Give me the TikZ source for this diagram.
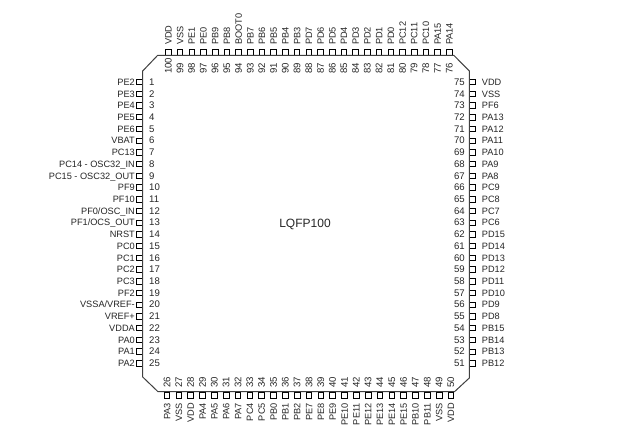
\documentclass[tikz,border=0pt]{standalone}
\usepackage{fontspec}
\setmainfont{Liberation Sans}
\begin{document}
\begin{tikzpicture}[x=1pt,y=-1pt,
  lbl/.style={inner sep=0pt,text height=6.6pt,text depth=0pt,font=\fontsize{9.2}{10}\selectfont,text=black!85},
  num/.style={lbl,font=\fontsize{9.6}{10}\selectfont},
  hpin/.style={draw=black,line width=0.75pt,rectangle,inner sep=0pt,minimum width=6pt,minimum height=5.4pt},
  vpin/.style={draw=black,line width=0.75pt,rectangle,inner sep=0pt,minimum width=5.6pt,minimum height=6.2pt},
  body/.style={draw=black!75,line width=1pt,line join=miter}]
\useasboundingbox (0,0) rectangle (621,435);
\fill[white] (0,0) rectangle (621,435);
% left pins 1-25
\foreach \t [count=\i] in {PE2,PE3,PE4,PE5,PE6,VBAT,PC13,PC14 - OSC32\_IN,PC15 - OSC32\_OUT,PF9,PF10,PF0/OSC\_IN,PF1/OCS\_OUT,NRST,PC0,PC1,PC2,PC3,PF2,VSSA/VREF-,VREF+,VDDA,PA0,PA1,PA2}{
  \pgfmathsetmacro\py{82+(\i-1)*11.72}
  \node[hpin] (p\i) at (139.7,\py) {};
  \node[lbl,anchor=east] (l\i) at (135,\py) {\t};
  \node[num,anchor=west] (n\i) at (149,\py) {\i};
}
% bottom pins 26-50
\foreach \t [count=\c] in {PA3,VSS,VDD,PA4,PA5,PA6,PA7,PC4,PC5,PB0,PB1,PB2,PE7,PE8,PE9,PE10,PE11,PE12,PE13,PE14,PE15,PB10,PB11,VSS,VDD}{
  \pgfmathtruncatemacro\i{25+\c}
  \pgfmathsetmacro\px{167+(\c-1)*11.83}
  \node[vpin] (p\i) at (\px,395) {};
  \node[lbl,rotate=90,anchor=east] (l\i) at (\px,403) {\t};
  \node[num,rotate=90,anchor=west] (n\i) at (\px,388) {\i};
}
% right pins 51-75
\foreach \t [count=\c] in {PB12,PB13,PB14,PB15,PD8,PD9,PD10,PD11,PD12,PD13,PD14,PD15,PC6,PC7,PC8,PC9,PA8,PA9,PA10,PA11,PA12,PA13,PF6,VSS,VDD}{
  \pgfmathtruncatemacro\i{50+\c}
  \pgfmathsetmacro\py{363.3-(\c-1)*11.72}
  \node[hpin] (p\i) at (472.2,\py) {};
  \node[lbl,anchor=west] (l\i) at (481.7,\py) {\t};
  \node[num,anchor=east] (n\i) at (465,\py) {\i};
}
% top pins 76-100
\foreach \t [count=\c] in {PA14,PA15,PC10,PC11,PC12,PD0,PD1,PD2,PD3,PD4,PD5,PD6,PD7,PB3,PB4,PB5,PB6,PB7,BOOT0,PB8,PB9,PE0,PE1,VSS,VDD}{
  \pgfmathtruncatemacro\i{75+\c}
  \pgfmathsetmacro\px{449.3-(\c-1)*11.71}
  \node[vpin] (p\i) at (\px,52.5) {};
  \node[lbl,rotate=90,anchor=west] (l\i) at (\px,45) {\t};
  \node[num,rotate=90,anchor=west] (n\i) at (\px,74) {\i};
}
\draw[body] (142.7,71) -- (157.5,55.5) -- (454,55.5) -- (469.3,71) -- (469.3,378) -- (454.5,391.7) -- (158,391.7) -- (142.7,377) -- cycle;
\node[inner sep=0pt,font=\fontsize{12}{13}\selectfont,text=black!85] (title) at (305,224) {LQFP100};
\end{tikzpicture}
\end{document}
